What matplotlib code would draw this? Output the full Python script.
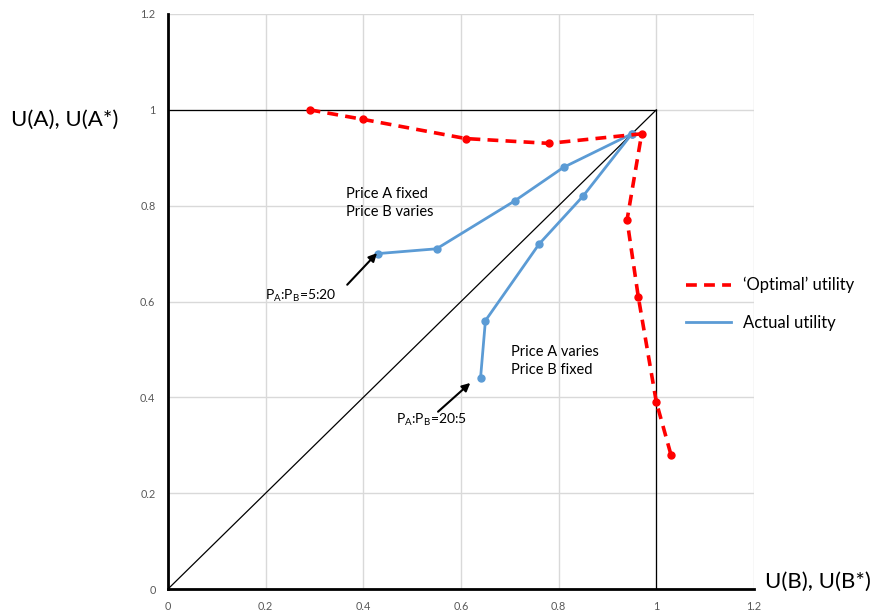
import matplotlib
matplotlib.use("Agg")
import matplotlib.pyplot as plt

plt.rcParams['font.family'] = ['Lato', 'DejaVu Sans']

# Data
opt_x = [0.29, 0.40, 0.61, 0.78, 0.97, 0.94, 0.963, 1.00, 1.03]
opt_y = [1.00, 0.98, 0.94, 0.93, 0.95, 0.77, 0.61, 0.39, 0.28]

actA_x = [0.43, 0.55, 0.71, 0.81, 0.95]
actA_y = [0.70, 0.71, 0.81, 0.88, 0.95]

actB_x = [0.64, 0.65, 0.76, 0.85, 0.95]
actB_y = [0.44, 0.56, 0.72, 0.82, 0.95]

ticks = [0, 0.2, 0.4, 0.6, 0.8, 1, 1.2]
tick_labels = ['0', '0.2', '0.4', '0.6', '0.8', '1', '1.2']

W, H = 877, 614
fig = plt.figure(figsize=(W / 100, H / 100), dpi=100)
x0, x1 = 168, 754
y0, y1 = 589, 14
ax = fig.add_axes([x0 / W, 1 - y0 / H, (x1 - x0) / W, (y0 - y1) / H])
ax.set_xlim(0, 1.2)
ax.set_ylim(0, 1.2)

ax.set_xticks(ticks)
ax.set_xticklabels(tick_labels)
ax.set_yticks(ticks)
ax.set_yticklabels(tick_labels)
ax.tick_params(length=0, labelsize=7.8, labelcolor='#595959', pad=9)
ax.grid(True, color='#d9d9d9', linewidth=1)
ax.set_axisbelow(True)
for s in ['top', 'right']:
    ax.spines[s].set_visible(False)
for s in ['left', 'bottom']:
    ax.spines[s].set_linewidth(2)
    ax.spines[s].set_color('black')

# reference lines
ax.plot([0, 1], [0, 1], color='black', lw=0.9, zorder=2)
ax.plot([0, 1], [1, 1], color='black', lw=0.9, zorder=2)
ax.plot([1, 1], [0, 1], color='black', lw=0.9, zorder=2)

blue = '#5B9BD5'
ax.plot(actA_x, actA_y, color=blue, lw=2, marker='o', ms=5, zorder=3,
        label='Actual utility')
ax.plot(actB_x, actB_y, color=blue, lw=2, marker='o', ms=5, zorder=3)
ax.plot(opt_x, opt_y, color='#FF0000', lw=2.6, ls=(0, (3, 2)), marker='o',
        ms=5, zorder=4, label='\u2018Optimal\u2019 utility', clip_on=False)

ax.text(0.365, 0.805, 'Price A fixed\nPrice B varies', fontsize=10.5,
        va='center', ha='left', linespacing=1.35)
ax.text(0.703, 0.475, 'Price A varies\nPrice B fixed', fontsize=10.5,
        va='center', ha='left', linespacing=1.35)
ax.text(0.199, 0.612, r'P$_\mathregular{A}$:P$_\mathregular{B}$=5:20',
        fontsize=10, va='center', ha='left')
ax.text(0.467, 0.353, r'P$_\mathregular{A}$:P$_\mathregular{B}$=20:5',
        fontsize=10, va='center', ha='left')
ax.annotate('', xy=(0.428, 0.701), xytext=(0.367, 0.635),
            arrowprops=dict(arrowstyle='-|>', color='black', lw=1.5,
                            mutation_scale=12, shrinkA=0, shrinkB=0))
ax.annotate('', xy=(0.619, 0.43), xytext=(0.553, 0.37),
            arrowprops=dict(arrowstyle='-|>', color='black', lw=1.5,
                            mutation_scale=12, shrinkA=0, shrinkB=0))

fig.text(11 / W, 1 - 120 / H, 'U(A), U(A*)', fontsize=16, va='center', ha='left')
fig.text(765 / W, 1 - 582 / H, 'U(B), U(B*)', fontsize=16, va='center', ha='left')

handles, labels = ax.get_legend_handles_labels()
ax.legend(handles[::-1], labels[::-1], loc='upper left',
          bbox_to_anchor=(671 / W, 1 - 262 / H), bbox_transform=fig.transFigure,
          frameon=False, fontsize=12, labelspacing=1.3, handlelength=2.7,
          handletextpad=0.7)
leg = ax.get_legend()
for l in leg.get_lines():
    l.set_marker('')

fig.savefig('out.png', dpi=100)
